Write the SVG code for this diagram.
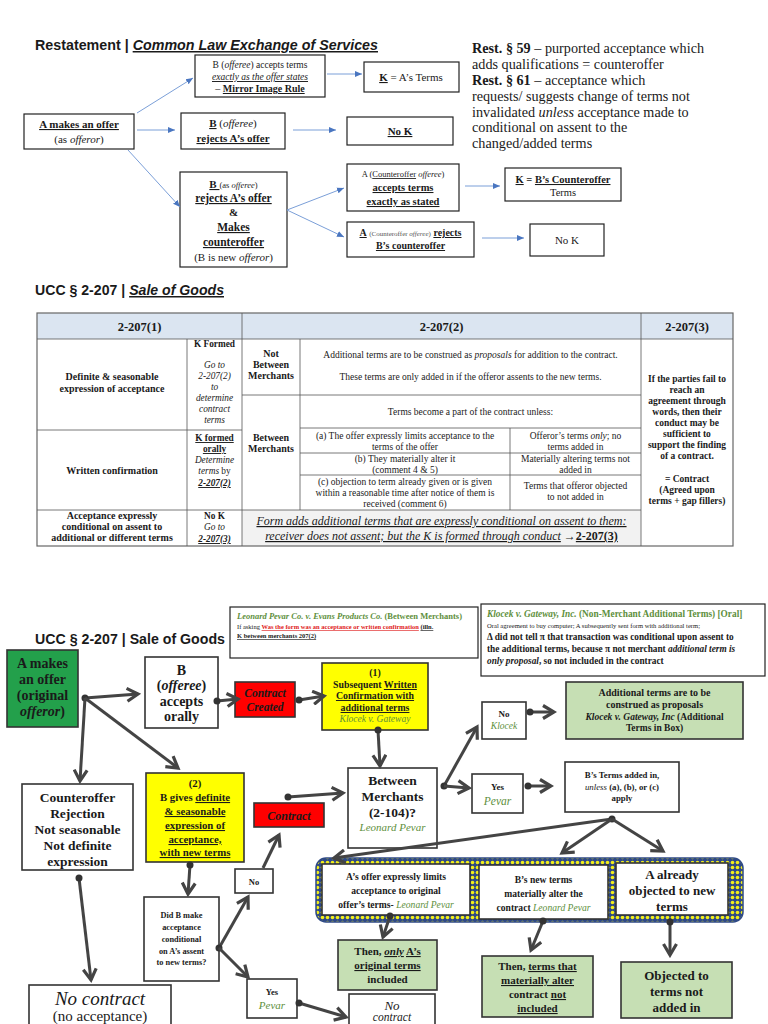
<svg xmlns="http://www.w3.org/2000/svg" width="768" height="1024" viewBox="0 0 768 1024">
<style>
text{font-family:"Liberation Serif",serif;fill:#1a1a1a}
.sans{font-family:"Liberation Sans",Arial,sans-serif}
.c{text-anchor:middle}
.b{font-weight:bold}
.i{font-style:italic}
.u{text-decoration:underline}
.g{fill:#5e8f3c}
.box{fill:#fff;stroke:#222;stroke-width:1.2}
.bx{fill:#fff;stroke:#333;stroke-width:1.6}
.red{fill:#ff0000;stroke:#333;stroke-width:1.6}
.yel{fill:#ffff00;stroke:#333;stroke-width:1.6}
.grn{fill:#c6dfb4;stroke:#333;stroke-width:1.6}
.tl{stroke:#555;stroke-width:0.8;fill:none}
.thin{stroke:#7b9fd8;stroke-width:1;fill:none}
.conn{stroke:#444;stroke-width:3;fill:none}
</style>
<defs>
<marker id="ta" markerUnits="userSpaceOnUse" markerWidth="8" markerHeight="8" refX="7" refY="4" orient="auto"><path d="M0,1 L7,4 L0,7 Z" fill="#4a76c0"/></marker>
<marker id="ah" markerUnits="userSpaceOnUse" markerWidth="16" markerHeight="16" refX="13" refY="8" orient="auto"><path d="M2,1.5 L13,8 L2,14.5" fill="none" stroke="#444" stroke-width="3.2" stroke-linejoin="miter"/></marker>
<marker id="dot" markerUnits="userSpaceOnUse" markerWidth="10" markerHeight="10" refX="5" refY="5"><circle cx="5" cy="5" r="3.5" fill="#333"/></marker>
<pattern id="band" patternUnits="userSpaceOnUse" width="5" height="5"><rect width="5" height="5" fill="#2f4a86"/><circle cx="2.5" cy="2.5" r="1.8" fill="#f2ee1a"/></pattern>
</defs>
<rect width="768" height="1024" fill="#fff"/>

<!-- ===== Top: Restatement ===== -->
<text x="35" y="50" class="sans b" font-size="15" textLength="343" lengthAdjust="spacingAndGlyphs">Restatement | <tspan class="i u">Common Law Exchange of Services</tspan></text>

<g id="t-accept">
<rect class="box" x="195" y="55" width="130" height="42"/>
<text x="260" y="68" class="c" font-size="9.5">B (<tspan class="i">offeree</tspan>) accepts terms</text>
<text x="260" y="80" class="c i u" font-size="9.5">exactly as the offer states</text>
<text x="260" y="92" class="c" font-size="10">– <tspan class="b u">Mirror Image Rule</tspan></text>
</g>
<g id="t-kA">
<rect class="box" x="364" y="62" width="95" height="30"/>
<text x="411" y="81" class="c" font-size="11"><tspan class="b u">K</tspan> = A’s Terms</text>
</g>
<g id="t-offer">
<rect class="box" x="24" y="114" width="110" height="35"/>
<text x="79" y="128" class="c b u" font-size="11">A makes an offer</text>
<text x="79" y="143" class="c" font-size="11">(as <tspan class="i">offeror</tspan>)</text>
</g>
<g id="t-reject">
<rect class="box" x="181" y="113" width="104" height="36"/>
<text x="233" y="127" class="c" font-size="11"><tspan class="b u">B</tspan> (<tspan class="i">offeree</tspan>)</text>
<text x="233" y="142" class="c b u" font-size="11">rejects A’s offer</text>
</g>
<g id="t-noK1">
<rect class="box" x="347" y="117" width="106" height="28"/>
<text x="400" y="135" class="c b u" font-size="11">No K</text>
</g>
<g id="t-counter">
<rect class="box" x="180" y="172" width="107" height="95"/>
<text x="233.5" y="188" class="c" font-size="11"><tspan class="b u">B </tspan><tspan font-size="8.5">(as <tspan class="i">offeree</tspan>)</tspan></text>
<text x="233.5" y="202" class="c b u" font-size="11.5">rejects A’s offer</text>
<text x="233.5" y="216" class="c b" font-size="11">&amp;</text>
<text x="233.5" y="231" class="c b u" font-size="11.5">Makes</text>
<text x="233.5" y="246" class="c b u" font-size="11.5">counteroffer</text>
<text x="233.5" y="261" class="c" font-size="11">(B is new <tspan class="i">offeror</tspan>)</text>
</g>
<g id="t-aaccept">
<rect class="box" x="347" y="164" width="112" height="47"/>
<text x="403" y="177" class="c" font-size="8.5">A (<tspan class="u">Counteroffer</tspan> <tspan class="i">offeree</tspan>)</text>
<text x="403" y="191" class="c b u" font-size="10.5">accepts terms</text>
<text x="403" y="205" class="c b u" font-size="10.5">exactly as stated</text>
</g>
<g id="t-kB">
<rect class="box" x="505" y="168" width="116" height="33"/>
<text x="563" y="183" class="c b" font-size="10.5"><tspan class="u">K</tspan> = <tspan class="u">B’s Counteroffer</tspan></text>
<text x="563" y="196" class="c" font-size="10.5">Terms</text>
</g>
<g id="t-areject">
<rect class="box" x="347" y="222" width="127" height="35"/>
<text x="410.5" y="236" class="c" font-size="10"><tspan class="b u">A</tspan> <tspan font-size="7" fill="#555">(Counteroffer <tspan class="i">offeree</tspan>)</tspan> <tspan class="b u">rejects</tspan></text>
<text x="410.5" y="249" class="c b u" font-size="10">B’s counteroffer</text>
</g>
<g id="t-noK2">
<rect class="box" x="530" y="224" width="74" height="32"/>
<text x="567" y="244" class="c" font-size="11">No K</text>
</g>
<g id="t-connectors">
<line class="thin" x1="137" y1="113" x2="193" y2="78" marker-end="url(#ta)"/>
<line class="thin" x1="137" y1="130" x2="175" y2="130" marker-end="url(#ta)"/>
<line class="thin" x1="128" y1="150" x2="180" y2="207" marker-end="url(#ta)"/>
<line class="thin" x1="327" y1="74" x2="362" y2="74" marker-end="url(#ta)"/>
<line class="thin" x1="293" y1="130" x2="336" y2="130" marker-end="url(#ta)"/>
<line class="thin" x1="287" y1="210" x2="344" y2="188" marker-end="url(#ta)"/>
<line class="thin" x1="287" y1="210" x2="344" y2="237" marker-end="url(#ta)"/>
<line class="thin" x1="465" y1="186" x2="500" y2="186" marker-end="url(#ta)"/>
<line class="thin" x1="482" y1="238" x2="524" y2="238" marker-end="url(#ta)"/>
</g>

<g id="rest-notes" font-size="14.2">
<text x="472" y="53"><tspan class="b">Rest. § 59</tspan> – purported acceptance which</text>
<text x="472" y="69">adds qualifications = counteroffer</text>
<text x="472" y="85"><tspan class="b">Rest. § 61</tspan> – acceptance which</text>
<text x="472" y="101">requests/ suggests change of terms not</text>
<text x="472" y="117">invalidated <tspan class="i">unless</tspan> acceptance made to</text>
<text x="472" y="132">conditional on assent to the</text>
<text x="472" y="148">changed/added terms</text>
</g>

<!-- ===== UCC table ===== -->
<text x="35" y="295" class="sans b" font-size="15" textLength="189" lengthAdjust="spacingAndGlyphs">UCC § 2-207 | <tspan class="i u">Sale of Goods</tspan></text>

<g id="table">
<rect x="37" y="313" width="696" height="26" fill="#dbe5f1"/>
<rect x="242" y="510" width="399" height="36" fill="#f2f2f2"/>
<rect x="37" y="313" width="696" height="233" fill="none" stroke="#666" stroke-width="1.2"/>
<path class="tl" d="M187,339V546 M242,313V546 M300,339V510 M510,428V510 M641,313V546 M37,339H733 M37,430H242 M37,510H641 M242,395H641 M300,428H641 M300,453H641 M300,475H641"/>
<g font-size="12.5" class="b">
<text x="139.5" y="331" class="c">2-207(1)</text>
<text x="441.5" y="331" class="c">2-207(2)</text>
<text x="687" y="331" class="c">2-207(3)</text>
</g>
<g font-size="10" class="b">
<text x="112" y="380" class="c">Definite &amp; seasonable</text>
<text x="112" y="392" class="c">expression of acceptance</text>
<text x="112" y="474" class="c">Written confirmation</text>
<text x="112" y="519" class="c">Acceptance expressly</text>
<text x="112" y="530" class="c">conditional on assent to</text>
<text x="112" y="541" class="c">additional or different terms</text>
<text x="271" y="357" class="c">Not</text>
<text x="271" y="368" class="c">Between</text>
<text x="271" y="379" class="c">Merchants</text>
<text x="271" y="441" class="c">Between</text>
<text x="271" y="452" class="c">Merchants</text>
</g>
<g font-size="9.3">
<text x="214.5" y="347" class="c b">K Formed</text>
<text x="214.5" y="368" class="c i" fill="#444">Go to</text>
<text x="214.5" y="379" class="c i" fill="#444">2-207(2)</text>
<text x="214.5" y="390" class="c i" fill="#444">to</text>
<text x="214.5" y="401" class="c i" fill="#444">determine</text>
<text x="214.5" y="412" class="c i" fill="#444">contract</text>
<text x="214.5" y="423" class="c i" fill="#444">terms</text>
<text x="214.5" y="441" class="c b u">K formed</text>
<text x="214.5" y="452" class="c b u">orally</text>
<text x="214.5" y="463" class="c i" fill="#444">Determine</text>
<text x="214.5" y="474" class="c" fill="#444"><tspan class="i">terms</tspan> by</text>
<text x="214.5" y="486" class="c i b u">2-207(2)</text>
<text x="214.5" y="519" class="c b">No K</text>
<text x="214.5" y="530" class="c i" fill="#444">Go to</text>
<text x="214.5" y="542" class="c i u b">2-207(3)</text>
</g>
<g font-size="9.5">
<text x="470.5" y="358" class="c">Additional terms are to be construed as <tspan class="i">proposals</tspan> for addition to the contract.</text>
<text x="470.5" y="380" class="c">These terms are only added in if the offeror assents to the new terms.</text>
<text x="470.5" y="415" class="c">Terms become a part of the contract unless:</text>
<text x="405" y="439" class="c">(a) The offer expressly limits acceptance to the</text>
<text x="405" y="450" class="c">terms of the offer</text>
<text x="575.5" y="439" class="c">Offeror’s terms <tspan class="i">only</tspan>; no</text>
<text x="575.5" y="450" class="c">terms added in</text>
<text x="405" y="462" class="c">(b) They materially alter it</text>
<text x="405" y="473" class="c">(comment 4 &amp; 5)</text>
<text x="575.5" y="462" class="c">Materially altering terms not</text>
<text x="575.5" y="473" class="c">added in</text>
<text x="405" y="484.5" class="c">(c) objection to term already given or is given</text>
<text x="405" y="495.5" class="c">within a reasonable time after notice of them is</text>
<text x="405" y="506.5" class="c">received (comment 6)</text>
<text x="575.5" y="489" class="c">Terms that offeror objected</text>
<text x="575.5" y="500" class="c">to not added in</text>
</g>
<g class="b" font-size="9.5">
<text x="687" y="382" class="c">If the parties fail to</text>
<text x="687" y="393" class="c">reach an</text>
<text x="687" y="404" class="c">agreement through</text>
<text x="687" y="415" class="c">words, then their</text>
<text x="687" y="426" class="c">conduct may be</text>
<text x="687" y="437" class="c">sufficient to</text>
<text x="687" y="448" class="c">support the finding</text>
<text x="687" y="459" class="c">of a contract.</text>
<text x="687" y="482" class="c">= Contract</text>
<text x="687" y="493" class="c">(Agreed upon</text>
<text x="687" y="504" class="c">terms + gap fillers)</text>
</g>
<text x="441.5" y="525" class="c i u" font-size="12" fill="#333">Form adds additional terms that are expressly conditional on assent to them:</text>
<text x="441.5" y="540" class="c" font-size="12" fill="#333"><tspan class="i u">receiver does not assent; but the K is formed through conduct</tspan> →<tspan class="b u">2-207(3)</tspan></text>
</g>

<!-- ===== Bottom flowchart ===== -->
<text x="35" y="644" class="sans b" font-size="15.5" textLength="190" lengthAdjust="spacingAndGlyphs">UCC § 2-207 | Sale of Goods</text>

<g id="n-pevar-case">
<rect class="box" x="230" y="607" width="248" height="51"/>
<text x="237" y="619" font-size="8.5" class="b g"><tspan class="i">Leonard Pevar Co. v. Evans Products Co.</tspan> (Between Merchants)</text>
<text x="237" y="629" font-size="6.5">If asking <tspan fill="#e02020" class="u b">Was the form was an acceptance or written confirmation</tspan> <tspan class="b u">(illn.</tspan></text>
<text x="237" y="638" font-size="6.5" class="b u">K between merchants 207(2)</text>
</g>
<g id="n-klocek-case">
<rect class="box" x="481" y="604" width="284" height="72"/>
<text x="487" y="617" font-size="9.3" class="b g"><tspan class="i">Klocek v. Gateway, Inc.</tspan> (Non-Merchant Additional Terms) [Oral]</text>
<text x="487" y="628" font-size="6.6" fill="#333">Oral agreement to buy computer; A subsequently sent form with additional term;</text>
<text x="487" y="640" font-size="9.3" class="b">Δ did not tell π that transaction was conditional upon assent to</text>
<text x="487" y="652" font-size="9.3" class="b">the additional terms, because π not merchant <tspan class="i">additional term is</tspan></text>
<text x="487" y="664" font-size="9.3" class="b"><tspan class="i">only proposal</tspan>, so not included in the contract</text>
</g>

<g id="n-a-offer">
<rect x="7" y="650" width="71" height="77" fill="#23a04b" stroke="#333" stroke-width="1.6"/>
<g class="b" font-size="14"><text x="42.5" y="668" class="c">A makes</text>
<text x="42.5" y="684" class="c">an offer</text>
<text x="42.5" y="700" class="c">(original</text>
<text x="42.5" y="716" class="c"><tspan class="i">offeror</tspan>)</text></g>
</g>
<g id="n-b-oral">
<rect class="bx" x="145" y="657" width="73" height="71"/>
<g class="b" font-size="14"><text x="181.5" y="675" class="c">B</text>
<text x="181.5" y="690" class="c">(<tspan class="i">offeree</tspan>)</text>
<text x="181.5" y="706" class="c">accepts</text>
<text x="181.5" y="721" class="c">orally</text></g>
</g>
<g id="n-created">
<rect class="red" x="235" y="682" width="60" height="35"/>
<text x="265" y="697" class="c b i" font-size="11.5" fill="#5a0a0a">Contract</text>
<text x="265" y="711" class="c b i" font-size="11.5" fill="#5a0a0a">Created</text>
</g>
<g id="n-written">
<rect class="yel" x="322" y="663" width="106" height="67"/>
<g class="b" font-size="9.8"><text x="375" y="676" class="c">(1)</text>
<text x="375" y="688" class="c">Subsequent <tspan class="u">Written</tspan></text>
<text x="375" y="699" class="c u">Confirmation with</text>
<text x="375" y="711" class="c u">additional terms</text></g>
<text x="375" y="722" class="c i g" font-size="9.5">Klocek v. Gateway</text>
</g>
<g id="n-proposals">
<rect class="grn" x="566" y="682" width="177" height="57"/>
<text x="654.5" y="696" class="c b" font-size="10">Additional terms are to be</text>
<text x="654.5" y="708" class="c b" font-size="10">construed as proposals</text>
<text x="654.5" y="720" class="c b" font-size="9.5" fill="#8a9886"><tspan class="i">Klocek v. Gateway, Inc</tspan> (Additional</text>
<text x="654.5" y="731" class="c b" font-size="9.5" fill="#8a9886">Terms in Box)</text>
</g>
<g id="n-no-klocek">
<rect class="bx" x="482" y="702" width="44" height="37"/>
<text x="504" y="717" class="c b" font-size="9">No</text>
<text x="504" y="729" class="c i g" font-size="9.5">Klocek</text>
</g>
<g id="n-between">
<rect class="bx" x="348" y="768" width="89" height="80"/>
<g class="b" font-size="13.5"><text x="392.5" y="785" class="c">Between</text>
<text x="392.5" y="801" class="c">Merchants</text>
<text x="392.5" y="817" class="c">(2-104)?</text></g>
<text x="392.5" y="831" class="c i g" font-size="11">Leonard Pevar</text>
</g>
<g id="n-yes-pevar1">
<rect class="bx" x="472" y="774" width="51" height="39"/>
<text x="497.5" y="790" class="c b" font-size="9">Yes</text>
<text x="497.5" y="805" class="c i g" font-size="11.5">Pevar</text>
</g>
<g id="n-bterms">
<rect class="bx" x="565" y="762" width="114" height="50"/>
<text x="622" y="778" class="c b" font-size="8.8">B’s Terms added in,</text>
<text x="622" y="790" class="c b" font-size="8.8"><tspan class="i" font-weight="normal">unless</tspan> (a), (b), or (c)</text>
<text x="622" y="801" class="c b" font-size="8.8">apply</text>
</g>
<g id="n-counteroffer">
<rect class="bx" x="22" y="784" width="111" height="86"/>
<g class="b" font-size="13.5"><text x="77.5" y="802" class="c">Counteroffer</text>
<text x="77.5" y="818" class="c">Rejection</text>
<text x="77.5" y="834" class="c">Not seasonable</text>
<text x="77.5" y="850" class="c">Not definite</text>
<text x="77.5" y="866" class="c">expression</text></g>
</g>
<g id="n-definite">
<rect class="yel" x="146" y="773" width="98" height="89"/>
<g class="b" font-size="10.8"><text x="195" y="787" class="c">(2)</text>
<text x="195" y="801" class="c">B gives <tspan class="u">definite</tspan></text>
<text x="195" y="815" class="c u">&amp; seasonable</text>
<text x="195" y="829" class="c u">expression of</text>
<text x="195" y="843" class="c u">acceptance,</text>
<text x="195" y="856" class="c u">with new terms</text></g>
</g>
<g id="n-contract">
<rect class="red" x="254" y="803" width="70" height="24"/>
<text x="289" y="820" class="c b i" font-size="12" fill="#5a0a0a">Contract</text>
</g>
<g id="n-no2">
<rect class="bx" x="235" y="869" width="38" height="24"/>
<text x="254" y="885" class="c b" font-size="8.5">No</text>
</g>
<g id="n-didb">
<rect class="bx" x="144" y="897" width="75" height="84"/>
<g class="b" font-size="8.3"><text x="181.5" y="918" class="c">Did B make</text>
<text x="181.5" y="930" class="c">acceptance</text>
<text x="181.5" y="942" class="c">conditional</text>
<text x="181.5" y="954" class="c">on A’s assent</text>
<text x="181.5" y="965" class="c">to new terms?</text></g>
</g>
<g id="n-yes-pevar2">
<rect class="bx" x="247" y="979" width="50" height="39"/>
<text x="272" y="995" class="c b" font-size="8.5">Yes</text>
<text x="272" y="1009" class="c i g" font-size="11">Pevar</text>
</g>
<g id="n-nocontract1">
<rect class="bx" x="29" y="985" width="142" height="50"/>
<text x="100" y="1005" class="c i" font-size="19">No contract</text>
<text x="100" y="1021" class="c" font-size="15">(no acceptance)</text>
</g>
<g id="n-nocontract2">
<rect class="bx" x="349" y="994" width="86" height="40"/>
<text x="392" y="1010" class="c i" font-size="13">No</text>
<text x="392" y="1021" class="c i" font-size="11.5">contract</text>
</g>

<g id="n-band">
<rect x="316" y="858" width="427" height="64" rx="10" fill="url(#band)" stroke="#2f4a86" stroke-width="1.5"/>
</g>
<g id="n-limits">
<rect class="bx" x="322" y="864" width="148" height="51"/>
<g class="b" font-size="9.6"><text x="396" y="880" class="c">A’s offer expressly limits</text>
<text x="396" y="894" class="c">acceptance to original</text>
<text x="396" y="908" class="c">offer’s terms- <tspan class="i g" font-weight="normal">Leonard Pevar</tspan></text></g>
</g>
<g id="n-alter">
<rect class="bx" x="479" y="865" width="129" height="54"/>
<g class="b" font-size="9.6"><text x="543.5" y="883" class="c">B’s new terms</text>
<text x="543.5" y="897" class="c">materially alter the</text>
<text x="543.5" y="911" class="c">contract <tspan class="i g" font-weight="normal">Leonard Pevar</tspan></text></g>
</g>
<g id="n-objected">
<rect class="bx" x="616" y="863" width="112" height="52"/>
<g class="b" font-size="13"><text x="672" y="879" class="c">A already</text>
<text x="672" y="895" class="c">objected to new</text>
<text x="672" y="911" class="c">terms</text></g>
</g>
<g id="n-only">
<rect class="grn" x="338" y="940" width="99" height="50"/>
<g class="b" font-size="11"><text x="387.5" y="955" class="c">Then, <tspan class="i u">only</tspan> <tspan class="u">A’s</tspan></text>
<text x="387.5" y="969" class="c u">original terms</text>
<text x="387.5" y="983" class="c">included</text></g>
</g>
<g id="n-notincl">
<rect class="grn" x="482" y="956" width="111" height="61"/>
<g class="b" font-size="11"><text x="537.5" y="970" class="c">Then, <tspan class="u">terms that</tspan></text>
<text x="537.5" y="984" class="c u">materially alter</text>
<text x="537.5" y="998" class="c">contract <tspan class="u">not</tspan></text>
<text x="537.5" y="1012" class="c u">included</text></g>
</g>
<g id="n-notadded">
<rect class="grn" x="621" y="962" width="111" height="56"/>
<g class="b" font-size="13"><text x="676.5" y="980" class="c">Objected to</text>
<text x="676.5" y="996" class="c">terms not</text>
<text x="676.5" y="1012" class="c">added in</text></g>
</g>

<g id="connectors">
<line class="conn" x1="85" y1="698" x2="138" y2="694" marker-start="url(#dot)" marker-end="url(#ah)"/>
<line class="conn" x1="85" y1="698" x2="178" y2="768" marker-end="url(#ah)"/>
<line class="conn" x1="85" y1="698" x2="80" y2="781" marker-end="url(#ah)"/>
<line class="conn" x1="217" y1="701" x2="238" y2="699" marker-start="url(#dot)" marker-end="url(#ah)"/>
<line class="conn" x1="299" y1="700" x2="324" y2="696" marker-start="url(#dot)" marker-end="url(#ah)"/>
<line class="conn" x1="378" y1="730" x2="380" y2="766" marker-start="url(#dot)" marker-end="url(#ah)"/>
<line class="conn" x1="288" y1="797" x2="343" y2="793" marker-start="url(#dot)" marker-end="url(#ah)"/>
<line class="conn" x1="444" y1="786" x2="477" y2="727" marker-start="url(#dot)" marker-end="url(#ah)"/>
<line class="conn" x1="444" y1="786" x2="469" y2="788" marker-end="url(#ah)"/>
<line class="conn" x1="530" y1="712" x2="554" y2="712" marker-start="url(#dot)" marker-end="url(#ah)"/>
<line class="conn" x1="528" y1="786" x2="551" y2="786" marker-start="url(#dot)" marker-end="url(#ah)"/>
<line class="conn" x1="612" y1="819" x2="334" y2="858" marker-start="url(#dot)" marker-end="url(#ah)"/>
<line class="conn" x1="612" y1="819" x2="562" y2="853" marker-end="url(#ah)"/>
<line class="conn" x1="612" y1="819" x2="663" y2="851" marker-end="url(#ah)"/>
<line class="conn" x1="390" y1="916" x2="383" y2="937" marker-start="url(#dot)" marker-end="url(#ah)"/>
<line class="conn" x1="543" y1="921" x2="531" y2="950" marker-start="url(#dot)" marker-end="url(#ah)"/>
<line class="conn" x1="670" y1="922" x2="670" y2="955" marker-start="url(#dot)" marker-end="url(#ah)"/>
<line class="conn" x1="190" y1="865" x2="188" y2="894" marker-start="url(#dot)" marker-end="url(#ah)"/>
<line class="conn" x1="219" y1="948" x2="248" y2="897" marker-start="url(#dot)" marker-end="url(#ah)"/>
<line class="conn" x1="219" y1="948" x2="248" y2="977" marker-end="url(#ah)"/>
<line class="conn" x1="263" y1="868" x2="279" y2="835" marker-end="url(#ah)"/>
<line class="conn" x1="79" y1="878" x2="91" y2="980" marker-start="url(#dot)" marker-end="url(#ah)"/>
<line class="conn" x1="299" y1="1003" x2="346" y2="1017" marker-start="url(#dot)" marker-end="url(#ah)"/>
</g>
</svg>
